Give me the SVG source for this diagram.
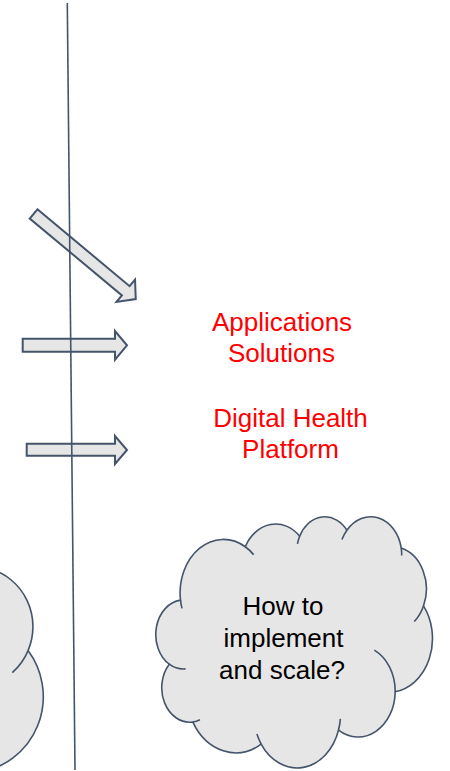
<svg xmlns="http://www.w3.org/2000/svg" width="450" height="771" viewBox="0 0 450 771">
<style>
.cloud{fill:#E7E6E6;stroke:#44546A;stroke-width:1.6;vector-effect:non-scaling-stroke}
.curl{fill:none;stroke:#44546A;stroke-width:1.6;vector-effect:non-scaling-stroke}
.arrow{fill:#E7E6E6;stroke:#44546A;stroke-width:2;stroke-linejoin:miter}
.red{font-family:"Liberation Sans",Arial,sans-serif;font-size:26px;fill:#FF0000;text-anchor:middle}
.blk{font-family:"Liberation Sans",Arial,sans-serif;font-size:26px;fill:#000000;text-anchor:middle}
</style>
<rect width="450" height="771" fill="#FFFFFF"/>
<g id="cloud-left" transform="translate(-426.7,524.4) scale(0.01088,0.008218)">
<path class="cloud" d="M3900,14370 A6753,9190 0 0 1 14000,5192 A5333,7267 0 0 1 22480,3380 A4365,5945 0 0 1 29850,2360 A4857,6595 0 0 1 38324,5426 A5333,7273 0 0 1 41798,15354 A6775,9220 0 0 1 37382,30093 A5785,7867 0 0 1 28545,36680 A6752,9215 0 0 1 16478,39090 A7720,10543 0 0 1 5810,35290 A4360,5918 0 0 1 2145,25370 A4345,5945 0 0 1 3900,14370 Z"/>
<path class="curl" d="M41798,15354 A5333,7273 0 0 1 40351,18030"/>
</g>
<g id="arrow-diagonal">
<path class="arrow" transform="translate(32.8,213.3) rotate(39.8)" d="M1,-6 H121 V-14.5 L134,0 L121,14.5 V6 H1 Z"/>
</g>
<g id="arrow-applications">
<path class="arrow" d="M22.7,338.7 H115 V331 L127,345.3 L115,359.7 V351.7 H22.7 Z"/>
</g>
<g id="arrow-platform">
<path class="arrow" d="M26.7,443.7 H115 V436 L127,450 L115,464 V455.7 H26.7 Z"/>
</g>
<g id="connectors">
<line x1="67.3" y1="3" x2="75" y2="770" stroke="#44546A" stroke-width="1.6"/>
</g>
<g id="applications-solutions">
<text class="red" x="282" y="331">Applications</text>
<text class="red" x="281.5" y="362">Solutions</text>
</g>
<g id="digital-health-platform">
<text class="red" x="290.5" y="427">Digital Health</text>
<text class="red" x="290.5" y="458">Platform</text>
</g>
<g id="cloud-right">
<g transform="translate(155.5,516.5) scale(0.006412,0.005822)">
<path class="cloud" d="M3900,14370 A6753,9190 0 0 1 14000,5192 A5333,7267 0 0 1 22480,3380 A4365,5945 0 0 1 29850,2360 A4857,6595 0 0 1 38324,5426 A5333,7273 0 0 1 41798,15354 A6775,9220 0 0 1 37382,30093 A5785,7867 0 0 1 28545,36680 A6752,9215 0 0 1 16478,39090 A7720,10543 0 0 1 5810,35290 A4360,5918 0 0 1 2145,25370 A4345,5945 0 0 1 3900,14370 Z"/>
<path class="curl" d="M4693,26177 A4345,5945 0 0 1 2145,25370 M6928,34899 A4360,5918 0 0 1 5810,35290 M16478,39090 A6752,9215 0 0 1 15817,37371 M28827,34751 A6752,9215 0 0 1 28545,36680 M34129,22954 A5785,7867 0 0 1 37382,30093 M41798,15354 A5333,7273 0 0 1 40351,18030 M38324,5426 A4857,6595 0 0 1 38397,6695 M29078,3952 A4857,6595 0 0 1 29850,2360 M22141,4720 A4365,5945 0 0 1 22480,3380 M14000,5192 A6753,9190 0 0 1 15305,6550 M4127,15789 A6753,9190 0 0 1 3900,14370"/>
</g>
<text class="blk" x="283" y="615">How to</text>
<text class="blk" x="283.5" y="647">implement</text>
<text class="blk" x="282" y="678.5">and scale?</text>
</g>
</svg>
